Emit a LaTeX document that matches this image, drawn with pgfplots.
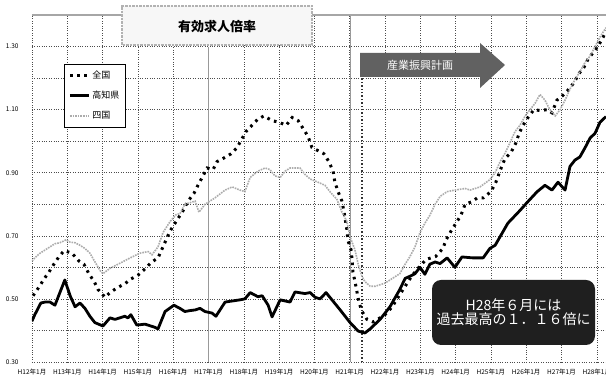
\documentclass[border=0pt]{standalone}
\usepackage{fontspec}
\setmainfont{Noto Sans CJK JP}
\usepackage{pgfplots}
\pgfplotsset{compat=1.18}
\begin{document}
\begin{tikzpicture}[x=1pt,y=1pt]
\useasboundingbox (0,0) rectangle (606,385);
\fill[white] (0,0) rectangle (606,385);
\begin{axis}[
  at={(32pt,23pt)}, anchor=south west,
  scale only axis, width=574pt, height=347pt,
  xmin=0, xmax=16.26, ymin=0.3, ymax=1.4,
  axis line style={draw=none},
  major tick length=0pt, minor tick length=0pt,
  xtick={0,...,16},
  xticklabels={H12年1月,H13年1月,H14年1月,H15年1月,H16年1月,H17年1月,H18年1月,H19年1月,H20年1月,H21年1月,H22年1月,H23年1月,H24年1月,H25年1月,H26年1月,H27年1月,H28年1月},
  ytick={0.3,0.5,0.7,0.9,1.1,1.3},
  minor ytick={0.4,0.6,0.8,1.0,1.2},
  grid=both,
  major grid style={black!70, dotted, line width=0.6pt},
  minor grid style={black!70, dotted, line width=0.6pt},
  tick label style={font=\fontsize{6.5}{7}\selectfont},
  xticklabel style={yshift=-3pt},
  yticklabel style={xshift=-10pt, /pgf/number format/fixed, /pgf/number format/fixed zerofill, /pgf/number format/precision=2, /pgf/number format/assume math mode=true},
  legend style={at={(0.056,0.859)}, anchor=north west, draw=black, line width=0.7pt, font=\fontsize{9}{10}\selectfont, inner xsep=4pt, inner ysep=5pt, row sep=7pt, cells={anchor=west}},
  legend image code/.code={\draw[#1] (0pt,0pt) -- (19pt,0pt);},
]
% reference lines
\draw[gray!80, line width=0.9pt] (axis cs:5,0.3) -- (axis cs:5,1.30);
\draw[gray!80, line width=0.9pt] (axis cs:9.01,0.3) -- (axis cs:9.01,1.4);
\draw[gray!70, line width=1.2pt] (axis cs:0,1.4) -- (axis cs:16.26,1.4);
\draw[black!80, dotted, line width=1.4pt] (axis cs:9.35,0.3) -- (axis cs:9.35,1.205);

% 全国
\addplot[black, line width=3pt, dash pattern=on 2.6pt off 4.6pt] table {
0.03 0.51
0.20 0.538
0.34 0.563
0.48 0.585
0.62 0.61
0.76 0.633
0.91 0.653
1.13 0.645
1.33 0.62
1.47 0.61
1.61 0.58
1.76 0.555
1.87 0.53
2.07 0.505
2.21 0.52
2.41 0.535
2.63 0.548
2.80 0.563
3.00 0.575
3.20 0.595
3.37 0.615
3.57 0.63
3.77 0.68
3.91 0.715
4.28 0.78
4.42 0.81
4.59 0.835
4.70 0.86
4.82 0.885
4.96 0.915
5.13 0.91
5.24 0.935
5.41 0.945
5.64 0.96
5.81 0.98
6.06 1.03
6.23 1.05
6.40 1.07
6.57 1.08
6.80 1.065
7.00 1.06
7.20 1.05
7.37 1.075
7.54 1.065
7.68 1.04
7.82 1.015
7.93 0.98
8.10 0.97
8.27 0.96
8.41 0.935
8.53 0.905
8.58 0.87
8.67 0.84
8.78 0.81
8.84 0.775
8.92 0.72
8.95 0.685
9.04 0.655
9.07 0.62
9.09 0.585
9.15 0.555
9.21 0.52
9.26 0.49
9.35 0.46
9.49 0.435
9.66 0.427
9.86 0.44
10.06 0.455
10.23 0.48
10.37 0.505
10.57 0.54
10.76 0.573
10.96 0.60
11.16 0.625
11.44 0.635
11.64 0.66
11.73 0.687
11.87 0.715
12.01 0.74
12.15 0.765
12.27 0.80
12.46 0.808
12.61 0.82
12.78 0.82
13.00 0.84
13.14 0.87
13.29 0.915
13.40 0.945
13.57 0.965
13.71 0.995
13.80 1.025
13.91 1.05
14.05 1.075
14.22 1.10
14.39 1.097
14.59 1.10
14.73 1.09
14.87 1.13
15.04 1.145
15.21 1.165
15.35 1.185
15.50 1.215
15.64 1.235
15.75 1.26
15.89 1.28
16.03 1.30
16.18 1.33
16.26 1.35
};
\addlegendentry{全国}

% 高知県
\addplot[black, line width=2.8pt, line join=round] table {
0.00 0.43
0.08 0.45
0.25 0.487
0.37 0.49
0.51 0.49
0.65 0.48
0.79 0.52
0.93 0.56
1.08 0.51
1.22 0.475
1.36 0.487
1.50 0.47
1.64 0.445
1.78 0.425
2.01 0.414
2.21 0.44
2.35 0.435
2.49 0.44
2.63 0.445
2.72 0.44
2.80 0.45
2.97 0.417
3.20 0.42
3.34 0.415
3.48 0.41
3.57 0.405
3.77 0.46
4.02 0.48
4.19 0.47
4.33 0.46
4.48 0.463
4.62 0.465
4.76 0.47
4.90 0.46
5.10 0.455
5.21 0.445
5.47 0.49
5.89 0.497
6.03 0.50
6.18 0.52
6.40 0.507
6.52 0.51
6.69 0.48
6.80 0.443
7.03 0.497
7.31 0.49
7.45 0.522
7.73 0.517
7.88 0.52
8.02 0.505
8.16 0.50
8.33 0.52
8.73 0.465
9.01 0.425
9.24 0.398
9.43 0.392
9.58 0.405
9.86 0.435
10.14 0.475
10.42 0.53
10.57 0.565
10.71 0.572
10.85 0.58
10.99 0.60
11.13 0.578
11.27 0.61
11.42 0.617
11.56 0.612
11.76 0.63
11.98 0.60
12.18 0.633
12.49 0.63
12.78 0.63
12.97 0.66
13.12 0.67
13.48 0.74
13.82 0.78
14.02 0.805
14.31 0.84
14.53 0.86
14.73 0.845
14.90 0.87
15.10 0.845
15.24 0.92
15.38 0.94
15.52 0.95
15.67 0.98
15.81 1.01
15.95 1.025
16.09 1.06
16.26 1.078
};
\addlegendentry{高知県}

% 四国
\addplot[gray!65, line width=1.6pt, densely dotted] table {
0.00 0.62
0.08 0.63
0.23 0.645
0.51 0.665
0.65 0.675
0.79 0.678
0.96 0.687
1.08 0.68
1.22 0.678
1.36 0.67
1.50 0.66
1.64 0.645
1.78 0.618
1.93 0.59
2.01 0.58
2.21 0.597
2.49 0.613
2.78 0.63
3.06 0.645
3.29 0.65
3.40 0.64
3.57 0.665
3.71 0.71
3.91 0.745
4.08 0.767
4.19 0.77
4.33 0.80
4.62 0.81
4.73 0.775
4.90 0.80
5.18 0.82
5.47 0.845
5.67 0.855
5.89 0.845
6.03 0.84
6.18 0.885
6.40 0.905
6.60 0.915
6.74 0.91
6.88 0.89
7.03 0.885
7.17 0.905
7.31 0.915
7.59 0.915
7.73 0.895
7.88 0.88
8.10 0.87
8.30 0.86
8.44 0.84
8.64 0.815
8.78 0.775
8.92 0.745
9.01 0.697
9.15 0.655
9.24 0.61
9.35 0.57
9.43 0.555
9.58 0.54
9.72 0.54
10.00 0.55
10.28 0.57
10.42 0.58
10.57 0.61
10.71 0.635
10.85 0.665
10.99 0.71
11.13 0.74
11.27 0.765
11.42 0.80
11.56 0.825
11.76 0.84
11.98 0.845
12.27 0.85
12.41 0.845
12.69 0.855
12.97 0.878
13.12 0.90
13.26 0.935
13.40 0.962
13.54 0.995
13.68 1.03
13.82 1.05
13.97 1.08
14.11 1.10
14.25 1.12
14.39 1.148
14.53 1.13
14.67 1.10
14.82 1.08
14.96 1.10
15.10 1.13
15.24 1.165
15.38 1.195
15.52 1.22
15.67 1.25
15.81 1.27
15.95 1.30
16.09 1.33
16.26 1.36
};
\addlegendentry{四国}
\end{axis}

% title box
\draw[gray!60, line width=2.5pt, densely dotted, fill=gray!6] (122,340) rectangle (312,379);
\node[font=\fontsize{13}{14}\selectfont\bfseries] at (217,358) {有効求人倍率};

% arrow
\fill[black!62] (360,308) -- (480,308) -- (480,297) -- (505,320) -- (480,342) -- (480,332) -- (360,332) -- cycle;
\node[white, font=\fontsize{11}{12}\selectfont] at (420,320) {産業振興計画};

% annotation box
\fill[black!88, rounded corners=9pt] (432,40) rectangle (595,105);
\node[white, font=\fontsize{14}{15}\selectfont, align=center] at (513.5,72.5) {H28年６月には\\[-1pt]過去最高の１．１６倍に};
\end{tikzpicture}
\end{document}
